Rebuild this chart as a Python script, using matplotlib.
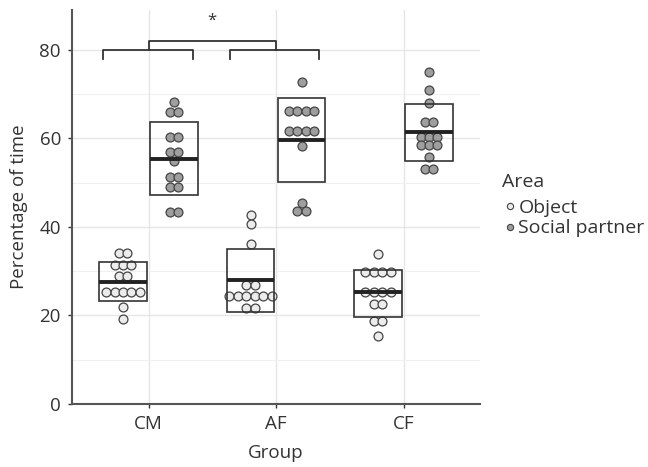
import numpy as np
import matplotlib
matplotlib.use("Agg")
import matplotlib.pyplot as plt
from matplotlib.lines import Line2D

plt.rcParams['font.family'] = ['Open Sans', 'DejaVu Sans']

groups = ["CM", "AF", "CF"]
areas = ["Object", "Social partner"]

# dot values (repeated values are stacked side by side)
cm_object = [34.0, 34.0, 31.3, 31.3, 31.3, 29.0, 29.0, 25.2, 25.2, 25.2, 25.2, 25.2, 21.8, 19.2]
cm_social = [68.3, 65.9, 65.9, 60.4, 60.4, 57.0, 57.0, 54.8, 51.2, 51.2, 49.0, 49.0, 43.3, 43.3]
af_object = [42.7, 40.7, 36.1, 26.9, 26.9, 24.3, 24.3, 24.3, 24.3, 24.3, 24.3, 21.6, 21.6]
af_social = [72.7, 66.2, 66.2, 66.2, 66.2, 61.7, 61.7, 61.7, 61.7, 58.3, 45.3, 43.6, 43.6]
cf_object = [33.8, 29.9, 29.9, 29.9, 29.9, 25.2, 25.2, 25.2, 25.2, 22.6, 22.6, 18.8, 18.8, 15.4]
cf_social = [75.0, 71.0, 67.9, 63.6, 63.6, 60.4, 60.4, 60.4, 58.4, 58.4, 58.4, 55.7, 53.0, 53.0]

# crossbar values (mean and mean +/- SD)
object_low = [23.3, 20.7, 19.7]
object_mid = [27.6, 28.0, 25.2]
object_high = [32.0, 35.0, 30.3]
social_low = [47.2, 50.1, 55.0]
social_mid = [55.4, 59.7, 61.5]
social_high = [63.6, 69.2, 67.8]

dots = {
    "Object": [cm_object, af_object, cf_object],
    "Social partner": [cm_social, af_social, cf_social],
}
bars = {
    "Object": (object_low, object_mid, object_high),
    "Social partner": (social_low, social_mid, social_high),
}
fills = {"Object": "#ececec", "Social partner": "#9e9e9e"}
dodge = {"Object": -0.2, "Social partner": 0.2}

fig = plt.figure(figsize=(6.48, 4.67), dpi=100)
ax = fig.add_axes([72 / 648, 63 / 467, 408 / 648, 394 / 467])

x = np.arange(1, len(groups) + 1)
dot_w = 0.066
ink = "#333333"
fs = 13.5

for area in areas:
    for gi, vals in enumerate(dots[area]):
        cx = x[gi] + dodge[area]
        uniq = []
        for v in vals:
            if v not in uniq:
                uniq.append(v)
        for v in uniq:
            n = vals.count(v)
            xs = cx + (np.arange(n) - (n - 1) / 2) * dot_w
            ax.plot(xs, [v] * n, "o", ms=6.4, mfc=fills[area], mec="#444444",
                    mew=0.9, zorder=3, linestyle="none")
    low, mid, high = bars[area]
    pos = x + dodge[area]
    ax.bar(pos, np.array(high) - np.array(low), bottom=low, width=0.37,
           fill=False, edgecolor="#333333", linewidth=1.2, zorder=4)
    ax.hlines(mid, pos - 0.185, pos + 0.185, color="#222222", lw=2.8, zorder=5)

# significance brackets
def bracket(x0, x1, y, drop):
    ax.plot([x0, x0, x1, x1], [y - drop, y, y, y - drop], color=ink, lw=1.3,
            zorder=4, clip_on=False)

bracket(x[0] - 0.36, x[0] + 0.35, 80, 2.0)
bracket(x[1] - 0.36, x[1] + 0.34, 80, 2.0)
bracket(x[0], x[1], 82.1, 2.1)
ax.text((x[0] + x[1]) / 2, 84.8, "*", ha="center", va="bottom", fontsize=12, color=ink)

ax.set_xlim(0.4, 3.6)
ax.set_ylim(0, 89)
ax.set_xticks(x)
ax.set_xticklabels(groups)
ax.set_yticks([0, 20, 40, 60, 80])
ax.set_yticks([10, 30, 50, 70], minor=True)
ax.tick_params(axis="y", which="minor", length=0)
ax.tick_params(which="major", length=3, color=ink, labelsize=fs, labelcolor=ink,
               width=1, pad=5)
ax.grid(which="major", color="#e6e6e6", lw=1.0, zorder=0)
ax.grid(which="minor", axis="y", color="#f0f0f0", lw=0.8, zorder=0)
ax.set_axisbelow(True)
for s in ["top", "right"]:
    ax.spines[s].set_visible(False)
for s in ["left", "bottom"]:
    ax.spines[s].set_color("#555555")
    ax.spines[s].set_linewidth(1.5)
ax.set_xlabel("Group", fontsize=fs, color=ink, labelpad=8)
ax.set_ylabel("Percentage of time", fontsize=fs, color=ink, labelpad=8)

handles = [Line2D([], [], marker="o", linestyle="none", ms=4.5, mfc=fills[a],
                  mec="#444444", mew=0.8) for a in areas]
leg = fig.legend(handles, areas, title="Area", loc="upper left",
                 bbox_to_anchor=(494 / 648, 1 - 165 / 467), frameon=False,
                 fontsize=14, title_fontsize=14, handletextpad=0.05,
                 handlelength=0.8, borderaxespad=0, labelspacing=0.12)
leg._legend_box.align = "left"
leg._legend_box.sep = 6
for t in leg.get_texts():
    t.set_color(ink)
leg.get_title().set_color(ink)

fig.savefig("out.png", dpi=100)
